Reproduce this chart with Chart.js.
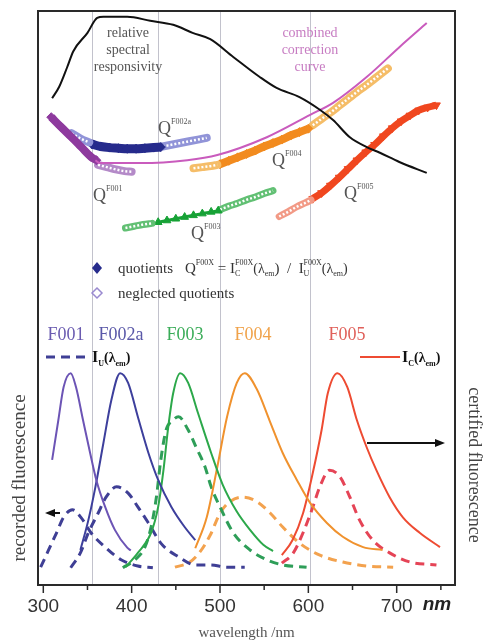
<!DOCTYPE html>
<html>
<head>
<meta charset="utf-8">
<script src="https://cdn.jsdelivr.net/npm/chart.js@4.4.1/dist/chart.umd.min.js"></script>
<style>
  html, body { margin: 0; padding: 0; background: #fff; }
</style>
</head>
<body>
<canvas id="c" width="483" height="643"></canvas>
<script>
// wavelength axis
const xTicks = [300, 400, 500, 600, 700];
const minorTicks = [350, 450, 550, 650, 750];
const separators = [355, 430, 500, 602];

// upper part: [wavelength nm, relative value]
const responsivity = [[310,84.8],[318,86.8],[327,90.2],[334,93.0],[350,96.2],[361,98.8],[368,99.0],[395,99.0],[421,98.3],[447,97.6],[469,96.2],[489,95.1],[515,92.0],[545,88.5],[564,86.6],[590,85.0],[613,82.8],[628,81.0],[647,78.0],[666,76.3],[681,75.3],[703,73.7],[734,71.8]];
const correction = [[359,74.0],[364,73.5],[410,73.5],[463,74.0],[497,74.9],[553,78.0],[602,81.9],[628,84.0],[666,88.5],[703,93.7],[734,97.9]];

const q1Used = [[309,81.5],[320,79.8],[332,78.0],[343,76.3],[354,74.6],[360,74.0]];
const q1Skip = [[362,73.2],[372,72.8],[382,72.4],[392,72.1],[400,72.0]];
const q2SkipA = [[332,78.7],[342,77.8],[352,77.1]];
const q2Used = [[355,76.8],[365,76.4],[375,76.2],[385,76.1],[395,76.0],[405,76.0],[415,76.1],[425,76.2],[433,76.3]];
const q2SkipB = [[435,76.4],[445,76.7],[455,77.0],[465,77.3],[475,77.6],[485,77.9]];
const q3SkipA = [[393,62.2],[403,62.5],[413,62.8],[423,63.0]];
const q3Used = [[430,63.2],[440,63.5],[450,63.8],[460,64.1],[470,64.4],[480,64.7],[490,65.0],[498,65.2]];
const q3SkipB = [[500,65.4],[510,66.0],[520,66.5],[530,67.1],[540,67.6],[550,68.2],[560,68.7]];
const q4SkipA = [[470,72.6],[480,72.8],[490,73.0],[497,73.2]];
const q4Used = [[500,73.3],[510,73.9],[520,74.5],[530,75.1],[540,75.7],[550,76.4],[560,77.0],[570,77.6],[580,78.3],[590,78.9],[600,79.5]];
const q4SkipB = [[605,80.1],[615,81.2],[625,82.3],[635,83.5],[645,84.7],[655,85.9],[665,87.0],[675,88.2],[685,89.4],[690,90.0]];
const q5SkipA = [[567,64.2],[577,65.0],[587,65.9],[597,66.6],[603,67.1]];
const q5Used = [[605,67.3],[615,68.3],[625,69.6],[635,71.0],[645,72.5],[655,74.0],[665,75.4],[675,76.7],[685,78.2],[695,79.6],[705,80.8],[715,81.8],[725,82.7],[735,83.2],[745,83.6]];

// lower part: certified (solid) and recorded (dashed) spectra
const certF001 = [[310,21.8],[317,28.7],[323,34.5],[331,36.9],[337,34.5],[345,28.7],[353,23.0],[360,18.3],[370,13.6],[381,9.6],[395,6.5],[399,6.0]];
const certF002a = [[342,6.1],[351,11.3],[359,17.1],[368,24.7],[377,32.2],[387,36.9],[396,35.2],[407,29.3],[419,23.0],[430,18.3],[445,13.6],[460,10.1],[472,7.8]];
const certF003 = [[393,3.1],[407,5.6],[422,9.1],[430,13.6],[436,20.0],[441,27.0],[447,33.4],[455,36.9],[464,35.2],[475,30.0],[490,23.0],[503,17.5],[519,12.8],[534,9.6],[549,7.0],[560,5.9]];
const certF004 = [[472,6.4],[485,11.8],[497,20.6],[508,29.3],[519,35.2],[528,36.9],[542,34.0],[556,28.7],[571,23.0],[587,18.3],[602,14.3],[621,10.8],[639,8.4],[662,6.6],[684,6.1]];
const certF005 = [[570,5.2],[582,7.8],[594,12.5],[605,19.5],[615,27.0],[622,33.4],[633,36.9],[644,34.5],[655,28.7],[666,24.0],[677,20.0],[692,15.3],[707,11.8],[726,9.1],[749,6.6]];

const recF001 = [[297,3.1],[306,6.1],[315,9.1],[323,11.8],[333,13.1],[343,11.7],[354,9.1],[370,6.6],[388,4.4],[407,3.3],[424,3.0]];
const recF002a = [[331,3.0],[342,5.6],[351,9.1],[362,12.5],[371,15.3],[383,17.1],[396,16.0],[407,13.6],[419,10.8],[433,7.3],[453,4.9],[472,3.5],[489,3.5],[508,3.1],[528,3.1]];
const recF003 = [[390,3.0],[404,4.4],[415,6.6],[422,10.1],[428,15.3],[433,21.8],[439,27.0],[446,28.6],[453,29.3],[464,27.0],[473,24.0],[483,20.6],[490,17.1],[500,13.6],[515,9.1],[534,6.1],[553,4.4],[571,3.5],[598,3.1]];
const recF004 = [[449,3.1],[466,4.0],[477,5.7],[489,8.7],[500,12.5],[511,14.5],[526,15.3],[542,14.5],[557,12.5],[571,10.1],[590,7.3],[613,5.2],[639,4.0],[666,3.3],[696,3.1]];
const recF005 = [[570,3.8],[583,5.6],[594,9.1],[604,13.1],[613,17.1],[624,20.0],[636,18.8],[647,15.3],[658,11.3],[673,7.8],[692,5.6],[715,4.0],[745,3.5]];

const SERIF = '"Liberation Serif", "DejaVu Serif", serif';
const SANS = '"Liberation Sans", Arial, sans-serif';

const xy = a => a.map(p => ({ x: p[0], y: p[1] }));

function curve(data, color, extra) {
  return Object.assign({
    data: xy(data), borderColor: color, backgroundColor: color,
    borderWidth: 2, pointRadius: 0, cubicInterpolationMode: 'monotone', fill: false
  }, extra || {});
}
// used quotients: a thick band of filled markers
function band(data, color, style, rot, w) {
  return curve(data, color, {
    borderWidth: w, pointStyle: style, rotation: rot || 0, pointRadius: 4.5,
    pointBorderWidth: 1, pointBorderColor: color, pointBackgroundColor: color
  });
}
// neglected quotients: a chain of open markers (coloured band with white holes)
function chain(data, color, w) {
  return [
    curve(data, '#fff', { borderWidth: 2.5, borderDash: [2, 2] }),
    curve(data, color, { borderWidth: w || 8, borderCapStyle: 'round' })
  ];
}

const dash = [9, 6];
const datasets = [
  curve(responsivity, '#111', { borderWidth: 2 }),
  curve(correction, '#c95bbd', { borderWidth: 2 }),
  band(q1Used, '#8e3a9e', 'rectRot', 0, 8),
  ...chain(q1Skip, '#b48ac8'),
  ...chain(q2SkipA, '#9194d8'),
  band(q2Used, '#262b8c', 'rectRot', 0, 9),
  ...chain(q2SkipB, '#9194d8'),
  ...chain(q3SkipA, '#62c074', 7),
  band(q3Used, '#17a236', 'triangle', 0, 3),
  ...chain(q3SkipB, '#62c074', 7),
  ...chain(q4SkipA, '#f5bd68'),
  band(q4Used, '#f28b1f', 'rectRot', 0, 8),
  ...chain(q4SkipB, '#f5bd68'),
  ...chain(q5SkipA, '#f29a86', 7),
  band(q5Used, '#f0471f', 'triangle', 180, 7),
  curve(certF001, '#6c54b5'),
  curve(certF002a, '#3d3f9c'),
  curve(certF003, '#2ca84a'),
  curve(certF004, '#f0922e'),
  curve(certF005, '#ee4b32'),
  curve(recF001, '#3f3f95', { borderWidth: 3, borderDash: dash }),
  curve(recF002a, '#3f3f95', { borderWidth: 3, borderDash: dash }),
  curve(recF003, '#2e9e58', { borderWidth: 3, borderDash: dash }),
  curve(recF004, '#f3a24e', { borderWidth: 3, borderDash: dash }),
  curve(recF005, '#e54456', { borderWidth: 3, borderDash: dash })
];

function runs(ctx, x, y, parts, color) {
  ctx.fillStyle = color;
  ctx.textAlign = 'left';
  ctx.textBaseline = 'alphabetic';
  let cx = x;
  for (const p of parts) {
    ctx.font = (p.b ? 'bold ' : '') + p.s + 'px ' + SERIF;
    ctx.fillText(p.t, cx, y + (p.dy || 0));
    if (!p.hold) cx += ctx.measureText(p.t).width;
  }
  return cx;
}

function arrow(ctx, x1, x2, y) {
  const dir = Math.sign(x2 - x1);
  ctx.strokeStyle = '#111'; ctx.fillStyle = '#111'; ctx.lineWidth = 2;
  ctx.beginPath(); ctx.moveTo(x1, y); ctx.lineTo(x2 - dir * 8, y); ctx.stroke();
  ctx.beginPath(); ctx.moveTo(x2, y); ctx.lineTo(x2 - dir * 10, y - 4); ctx.lineTo(x2 - dir * 10, y + 4); ctx.closePath(); ctx.fill();
}

const decor = {
  id: 'decor',
  beforeDatasetsDraw(chart) {
    const { ctx, chartArea: a, scales: { x } } = chart;
    ctx.save();
    ctx.strokeStyle = '#c2c2cc';
    ctx.lineWidth = 1;
    separators.forEach(w => {
      const px = Math.round(x.getPixelForValue(w)) + 0.5;
      ctx.beginPath(); ctx.moveTo(px, a.top); ctx.lineTo(px, a.bottom); ctx.stroke();
    });
    ctx.restore();
  },
  afterDraw(chart) {
    const { ctx, chartArea: a, scales: { x } } = chart;
    ctx.save();

    // frame and outward ticks
    ctx.strokeStyle = '#2a2a2a';
    ctx.lineWidth = 2;
    ctx.strokeRect(a.left, a.top, a.right - a.left, a.bottom - a.top);
    ctx.lineWidth = 1.5;
    xTicks.concat(minorTicks).forEach(w => {
      const px = x.getPixelForValue(w);
      ctx.beginPath(); ctx.moveTo(px, a.bottom); ctx.lineTo(px, a.bottom + (xTicks.includes(w) ? 8 : 5)); ctx.stroke();
    });

    // unit after the last label
    ctx.fillStyle = '#222';
    ctx.font = 'bold italic 19px ' + SANS;
    ctx.textBaseline = 'middle';
    ctx.textAlign = 'left';
    ctx.fillText('nm', x.getPixelForValue(700) + 26, 605);

    // side titles
    ctx.fillStyle = '#444';
    ctx.textAlign = 'center';
    ctx.font = '19px ' + SERIF;
    ctx.save(); ctx.translate(20, 478); ctx.rotate(-Math.PI / 2); ctx.fillText('recorded fluorescence', 0, 0); ctx.restore();
    ctx.font = '18px ' + SERIF;
    ctx.save(); ctx.translate(474, 465); ctx.rotate(Math.PI / 2); ctx.fillText('certified fluorescence', 0, 0); ctx.restore();

    // upper annotations
    ctx.font = '14px ' + SERIF;
    ctx.fillStyle = '#555';
    ['relative', 'spectral', 'responsivity'].forEach((s, i) => ctx.fillText(s, 128, 33 + i * 17));
    ctx.fillStyle = '#c77cc2';
    ['combined', 'correction', 'curve'].forEach((s, i) => ctx.fillText(s, 310, 33 + i * 17));

    const qLab = [['F002a', 158, 134], ['F001', 93, 201], ['F004', 272, 166], ['F003', 191, 239], ['F005', 344, 199]];
    qLab.forEach(q => runs(ctx, q[1], q[2], [{ t: 'Q', s: 18 }, { t: q[0], s: 8, dy: -10 }], '#555'));

    // quotient legend
    ctx.fillStyle = '#262b8c';
    ctx.beginPath(); ctx.moveTo(97, 262); ctx.lineTo(102, 268); ctx.lineTo(97, 274); ctx.lineTo(92, 268); ctx.closePath(); ctx.fill();
    ctx.strokeStyle = '#9a8ad0'; ctx.lineWidth = 1.5;
    ctx.beginPath(); ctx.moveTo(97, 288); ctx.lineTo(102, 293); ctx.lineTo(97, 298); ctx.lineTo(92, 293); ctx.closePath(); ctx.stroke();
    runs(ctx, 118, 273, [{ t: 'quotients', s: 15 }], '#333');
    runs(ctx, 185, 273, [
      { t: 'Q', s: 15 }, { t: 'F00X', s: 8, dy: -8 }, { t: ' = I', s: 15 },
      { t: 'C', s: 8, dy: 3, hold: true }, { t: 'F00X', s: 8, dy: -8 }, { t: '(λ', s: 14 }, { t: 'em', s: 8, dy: 3 },
      { t: ')  /  I', s: 15 }, { t: 'U', s: 8, dy: 3, hold: true }, { t: 'F00X', s: 8, dy: -8 },
      { t: '(λ', s: 14 }, { t: 'em', s: 8, dy: 3 }, { t: ')', s: 14 }
    ], '#333');
    runs(ctx, 118, 298, [{ t: 'neglected quotients', s: 15 }], '#333');

    // dye labels
    ctx.font = '18px ' + SERIF;
    ctx.textBaseline = 'middle';
    ctx.textAlign = 'center';
    [['F001', 66, '#6a5bb0'], ['F002a', 121, '#5a58a8'], ['F003', 185, '#3aac58'], ['F004', 253, '#f0a24a'], ['F005', 347, '#e0605a']]
      .forEach(l => { ctx.fillStyle = l[2]; ctx.fillText(l[0], l[1], 335); });

    // line keys
    ctx.lineWidth = 3;
    ctx.strokeStyle = '#3f3f95';
    ctx.setLineDash(dash);
    ctx.beginPath(); ctx.moveTo(46, 357); ctx.lineTo(90, 357); ctx.stroke();
    ctx.setLineDash([]);
    ctx.lineWidth = 2;
    ctx.strokeStyle = '#ee4b32';
    ctx.beginPath(); ctx.moveTo(360, 357); ctx.lineTo(400, 357); ctx.stroke();
    const key = [{ t: 'I', s: 16, b: 1 }, null, { t: '(λ', s: 14, b: 1 }, { t: 'em', s: 8, dy: 4, b: 1 }, { t: ')', s: 14, b: 1 }];
    runs(ctx, 92, 362, [key[0], { t: 'U', s: 8, dy: 4, b: 1 }].concat(key.slice(2)), '#111');
    runs(ctx, 402, 362, [key[0], { t: 'C', s: 8, dy: 4, b: 1 }].concat(key.slice(2)), '#111');

    // arrows pointing to the axes
    arrow(ctx, 60, 45, 513);
    arrow(ctx, 367, 445, 443);

    ctx.restore();
  }
};

new Chart(document.getElementById('c'), {
  type: 'line',
  data: { datasets: datasets },
  options: {
    responsive: false,
    animation: false,
    devicePixelRatio: 1,
    layout: { padding: { left: 38, right: 28, top: 11, bottom: 0 } },
    plugins: { legend: { display: false }, tooltip: { enabled: false } },
    scales: {
      x: {
        type: 'linear', min: 294, max: 766,
        afterBuildTicks: s => { s.ticks = xTicks.map(v => ({ value: v })); },
        afterFit: s => { s.height = 58; },
        grid: { display: false, drawTicks: false },
        border: { display: false },
        ticks: { font: { family: SANS, size: 19 }, color: '#333', padding: 10, maxRotation: 0, autoSkip: false },
        title: { display: true, text: 'wavelength /nm', font: { family: SERIF, size: 15 }, color: '#555', padding: { top: 0, bottom: 1 } }
      },
      y: { type: 'linear', min: 0, max: 100, display: false }
    }
  },
  plugins: [decor]
});
</script>
</body>
</html>
